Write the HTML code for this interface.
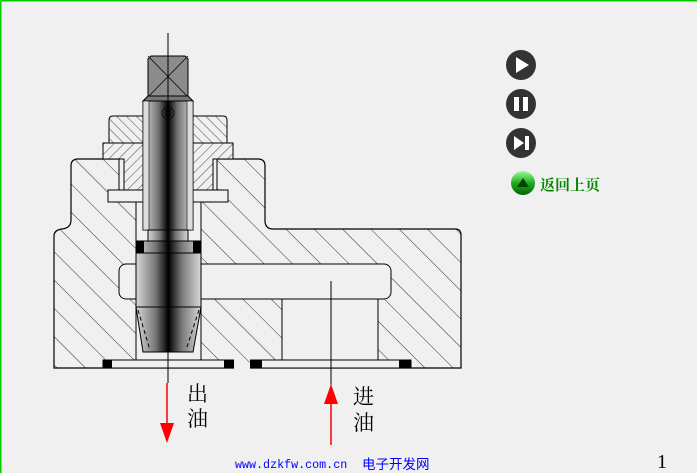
<!DOCTYPE html>
<html><head><meta charset="utf-8"><style>
html,body{margin:0;padding:0;background:#f0f0f0;}
body{width:697px;height:473px;overflow:hidden;position:relative;}
</style></head><body>
<svg width="697" height="473" viewBox="0 0 697 473" xmlns="http://www.w3.org/2000/svg" style="position:absolute;left:0;top:0">
<defs>
<pattern id="h1" patternUnits="userSpaceOnUse" width="20" height="20" patternTransform="rotate(-45)">
<rect width="20" height="20" fill="#f0f0f0"/><line x1="0" y1="0" x2="0" y2="20" stroke="#000" stroke-width="0.8"/></pattern>
<pattern id="h2" patternUnits="userSpaceOnUse" width="7" height="7" patternTransform="rotate(45)">
<rect width="7" height="7" fill="#f0f0f0"/><line x1="0" y1="0" x2="0" y2="7" stroke="#000" stroke-width="0.7"/></pattern>
<pattern id="h3" patternUnits="userSpaceOnUse" width="7" height="7" patternTransform="rotate(-45)">
<rect width="7" height="7" fill="#f0f0f0"/><line x1="0" y1="0" x2="0" y2="7" stroke="#000" stroke-width="0.7"/></pattern>
<linearGradient id="st" x1="0" x2="1" y1="0" y2="0">
<stop offset="0" stop-color="#d8d8d8"/><stop offset="0.3" stop-color="#777"/><stop offset="0.5" stop-color="#000"/><stop offset="0.7" stop-color="#777"/><stop offset="1" stop-color="#d8d8d8"/></linearGradient>
<linearGradient id="gb" x1="0" y1="0" x2="0" y2="1"><stop offset="0" stop-color="#9f9"/><stop offset="0.5" stop-color="#2a2"/><stop offset="1" stop-color="#060"/></linearGradient>
</defs>
<rect x="0.5" y="0.5" width="700" height="480" fill="none" stroke="#0c0" stroke-width="2"/>
<!-- body -->
<path d="M54,236 Q54,230 62,229 Q71,228 71,220 L71,166 Q71,159 78,159 L258,159 Q265,159 265,166 L265,222 Q266,229 273,229 L455,229 Q461,229 461,235 L461,368 L54,368 Z" fill="url(#h1)" stroke="#000" stroke-width="1.2"/>
<rect x="119" y="159" width="98" height="36" fill="#f0f0f0" stroke="#000"/>
<rect x="108" y="190" width="120" height="12" fill="#f0f0f0" stroke="#000"/>
<rect x="136" y="202" width="65" height="160" fill="#f0f0f0" stroke="#000"/>
<rect x="119" y="264" width="272" height="35" rx="7" fill="#f0f0f0" stroke="#000"/>
<rect x="282" y="299" width="96" height="63" fill="#f0f0f0" stroke="#000"/>
<rect x="200" y="265" width="90" height="33" fill="#f0f0f0"/>
<rect x="103" y="360" width="308" height="8" fill="#f0f0f0" stroke="#000"/>
<rect x="234" y="359" width="16" height="10" fill="url(#h1)"/>
<rect x="103" y="360" width="9" height="8"/><rect x="224" y="360" width="10" height="8"/>
<rect x="250" y="360" width="12" height="8"/><rect x="399" y="360" width="12" height="8"/>
<!-- packing nut -->
<path d="M103,143 L233,143 L233,159 L213,159 L213,190 L124,190 L124,159 L103,159 Z" fill="url(#h2)" stroke="#000"/>
<path d="M109,143 L109,120 Q109,116 113,116 L223,116 Q227,116 227,120 L227,143 Z" fill="url(#h3)" stroke="#000"/>
<!-- stem -->
<path d="M148,59 L151,56 L185,56 L188,59 L188,97 L148,97 Z" fill="#8c8c8c" stroke="#000"/>
<path d="M148,56 L188,97 M188,56 L148,97" stroke="#000" stroke-width="0.8"/>
<path d="M143,101 L148,96 L188,96 L193,101 Z" fill="#777" stroke="#000"/>
<rect x="143" y="101" width="50" height="129" fill="url(#st)" stroke="#000"/>
<rect x="143" y="101" width="6" height="129" fill="#ddd" stroke="#000" stroke-width="0.6"/>
<rect x="187" y="101" width="6" height="129" fill="#ddd" stroke="#000" stroke-width="0.6"/>
<rect x="148" y="230" width="40" height="11" fill="url(#st)" stroke="#000"/>
<rect x="136" y="241" width="65" height="12" fill="url(#st)" stroke="#000"/>
<rect x="136" y="241" width="8" height="12"/><rect x="193" y="241" width="8" height="12"/>
<rect x="136" y="253" width="65" height="54" fill="url(#st)" stroke="#000"/>
<path d="M136,307 L201,307 L193,352 L143,352 Z" fill="url(#st)" stroke="#000"/>
<path d="M138,310 L150,350 M199,310 L186,350" stroke="#000" stroke-dasharray="4,3"/>
<circle cx="168" cy="113" r="6" fill="none" stroke="#000" stroke-width="0.8"/><circle cx="168" cy="113" r="3" fill="none" stroke="#000" stroke-width="0.8"/>
<line x1="168" y1="33" x2="168" y2="383" stroke="#000"/>
<line x1="331" y1="281" x2="331" y2="385" stroke="#000"/>
<line x1="167" y1="383" x2="167" y2="425" stroke="#f00" stroke-width="1.5"/>
<path d="M160,423 L174,423 L167,443 Z" fill="#f00"/>
<line x1="331" y1="402" x2="331" y2="445" stroke="#f00" stroke-width="1.5"/>
<path d="M324,404 L338,404 L331,384 Z" fill="#f00"/>
<g font-family="Liberation Serif, Noto Serif CJK SC, serif" font-size="21" fill="#000">
<text x="187" y="401">出</text><text x="187" y="426">油</text>
<text x="353" y="404">进</text><text x="353" y="430">油</text>
</g>
<text x="235" y="468" font-family="Liberation Mono, monospace" font-size="11.7" fill="#00f">www.dzkfw.com.cn</text>
<text x="362" y="469" font-family="Liberation Sans, Noto Sans CJK SC, sans-serif" font-size="13.5" fill="#00f">电子开发网</text>
<text x="657" y="468" font-family="Liberation Serif, serif" font-size="20" fill="#000">1</text>
<circle cx="521" cy="65" r="15" fill="#333"/><path d="M516,57 L529,65 L516,73 Z" fill="#fff"/>
<circle cx="521" cy="104" r="15" fill="#333"/><rect x="514" y="97" width="5" height="14" fill="#fff"/><rect x="523" y="97" width="5" height="14" fill="#fff"/>
<circle cx="521" cy="143" r="15" fill="#333"/><path d="M514,136 L524,143 L514,150 Z" fill="#fff"/><rect x="525" y="136" width="4" height="14" fill="#fff"/>
<circle cx="523" cy="183" r="12" fill="url(#gb)"/><path d="M517,187 L523,178 L529,187 Z" fill="#040"/>
<text x="540" y="190" font-family="Liberation Serif, Noto Serif CJK SC, serif" font-size="15" fill="#080" font-weight="bold">返回上页</text>
</svg>
</body></html>
